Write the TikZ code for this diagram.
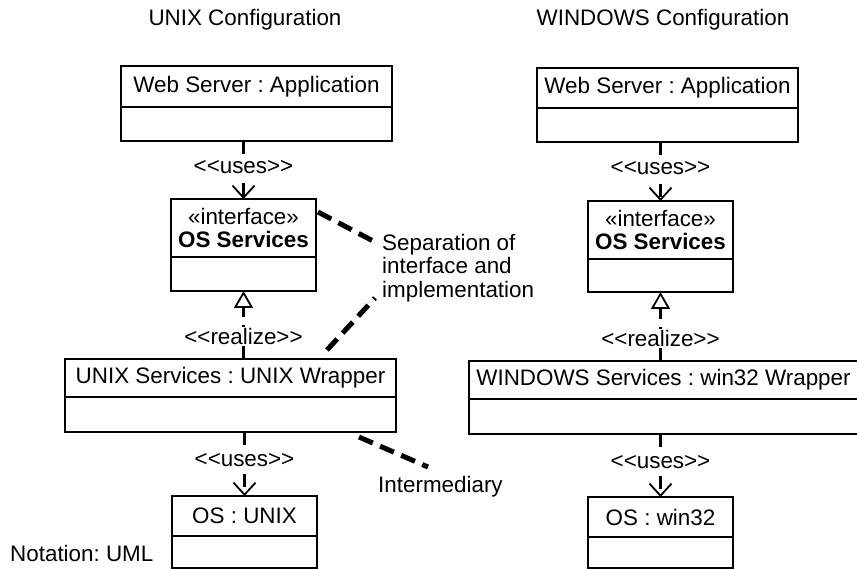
\documentclass[tikz,border=0pt]{standalone}
\usepackage{fontspec}
\setmainfont{Liberation Sans}
\usetikzlibrary{arrows.meta,positioning}

\newcommand{\stereo}[1]{<\kern0pt<#1>\kern0pt>}

\tikzset{
  every node/.style={font=\fontsize{22.4}{23}\selectfont, inner sep=0pt},
  objhead/.style={draw, line width=2.4pt, outer sep=0pt},
  objbody/.style={draw, line width=2.4pt, outer sep=0pt},
  uses/.style={line width=3.8pt, dash pattern=on 13pt off 8pt,
    -{Straight Barb[length=12pt, width=22pt, line width=1.8pt]}},
  realize/.style={line width=3.8pt, dash pattern=on 13pt off 8pt,
    -{Triangle[open, length=17pt, width=19pt, line width=1.8pt]}},
  lbl/.style={fill=white, inner sep=1pt},
  noteline/.style={line width=5pt, dash pattern=on 15pt off 8pt},
}

\begin{document}
\frenchspacing
\begin{tikzpicture}[x=1pt, y=-1pt]
\useasboundingbox (0,0) rectangle (857,569);
\clip (0,0) rectangle (857,569);

% Titles
\node (unixtitle) at (245,20) {UNIX Configuration};
\node (wintitle) at (663,20) {WINDOWS Configuration};

% UNIX column
\node[objhead, minimum width=271pt, minimum height=41pt] (web1) at (256.5,86.5) {Web Server : Application};
\node[objbody, minimum width=271pt, minimum height=34pt, below=0pt of web1] (web1b) {};

\node[objhead, minimum width=145pt, minimum height=58pt, align=center] (os1) at (243.5,228) {«interface»\\\textbf{OS Services}};
\node[objbody, minimum width=145pt, minimum height=34pt, below=0pt of os1] (os1b) {};

\node[objhead, minimum width=331pt, minimum height=38pt] (unixsvc) at (230.5,378) {UNIX Services : UNIX Wrapper};
\node[objbody, minimum width=331pt, minimum height=35pt, below=0pt of unixsvc] (unixsvcb) {};

\node[objhead, minimum width=145pt, minimum height=40pt] (osunix) at (244.5,516) {OS : UNIX};
\node[objbody, minimum width=145pt, minimum height=32pt, below=0pt of osunix] (osunixb) {};

\draw[uses] (web1b.south -| os1.north) -- node[lbl, pos=0.45] (uses1) {\stereo{uses}} (os1.north);
\draw[realize] (unixsvc.north -| os1b.south) -- node[lbl, pos=0.33] (real1) {\stereo{realize}} (os1b.south);
\draw[uses] (unixsvcb.south -| osunix.north) -- node[lbl, pos=0.44] (uses2) {\stereo{uses}} (osunix.north);

% WINDOWS column
\node[objhead, minimum width=261pt, minimum height=40pt] (web2) at (667.5,88) {Web Server : Application};
\node[objbody, minimum width=261pt, minimum height=34pt, below=0pt of web2] (web2b) {};

\node[objhead, minimum width=145pt, minimum height=58pt, align=center] (os2) at (660.5,230) {«interface»\\\textbf{OS Services}};
\node[objbody, minimum width=145pt, minimum height=33pt, below=0pt of os2] (os2b) {};

\node[objhead, minimum width=389pt, minimum height=38pt] (winsvc) at (663.5,380) {WINDOWS Services : win32 Wrapper};
\node[objbody, minimum width=389pt, minimum height=35pt, below=0pt of winsvc] (winsvcb) {};

\node[objhead, minimum width=145pt, minimum height=40pt] (oswin) at (660.5,517) {OS : win32};
\node[objbody, minimum width=145pt, minimum height=31pt, below=0pt of oswin] (oswinb) {};

\draw[uses] (web2b.south -| os2.north) -- node[lbl, pos=0.45] (uses3) {\stereo{uses}} (os2.north);
\draw[realize] (winsvc.north -| os2b.south) -- node[lbl, pos=0.33] (real2) {\stereo{realize}} (os2b.south);
\draw[uses] (winsvcb.south -| oswin.north) -- node[lbl, pos=0.44] (uses4) {\stereo{uses}} (oswin.north);

% Notes
\node[anchor=west, align=left, font=\fontsize{22.4}{23.5}\selectfont] (sepnote) at (382,268) {Separation of\\interface and\\implementation};
\node[anchor=west] (intermed) at (378,487) {Intermediary};
\node[anchor=west] (notation) at (10,553) {Notation: UML};

\draw[noteline] ([shift={(2,13)}]os1.north east) -- ([shift={(-7,-26)}]sepnote.west);
\draw[noteline] ([shift={(-69,-9)}]unixsvc.north east) -- ([shift={(-7,30)}]sepnote.west);
\draw[noteline] ([shift={(-37,5)}]unixsvcb.south east) -- ([shift={(50,-20)}]intermed.west);

\end{tikzpicture}
\end{document}
